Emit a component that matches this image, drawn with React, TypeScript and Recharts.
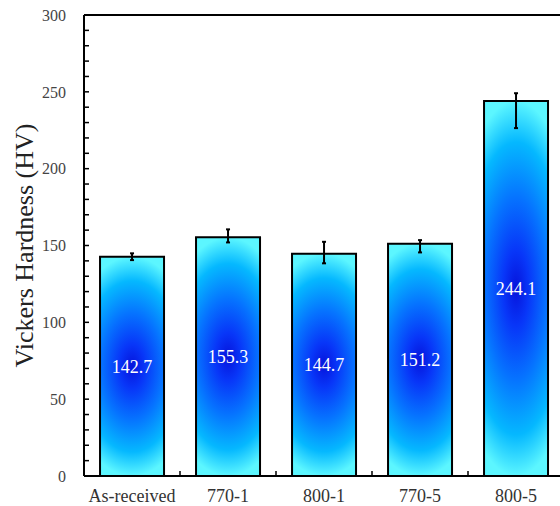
import { BarChart, Bar, XAxis, YAxis, ErrorBar, LabelList, ReferenceLine } from 'recharts';

const categories = ['As-received', '770-1', '800-1', '770-5', '800-5'];
const hardness = [142.7, 155.3, 144.7, 151.2, 244.1];
// error offsets below / above each mean
const errLow = [2.2, 3.3, 6.3, 5.7, 17.7];
const errHigh = [2.2, 5.2, 7.7, 2.3, 5.0];
const yTicks = [
  0, 10, 20, 30, 40, 50, 60, 70, 80, 90, 100, 110, 120, 130, 140, 150, 160, 170, 180, 190, 200,
  210, 220, 230, 240, 250, 260, 270, 280, 290, 300,
];
const yLabelStep = 50;

const data = categories.map((name, i) => ({
  name,
  hv: hardness[i],
  err: [errLow[i], errHigh[i]],
}));

const FONT = '"Liberation Serif", "DejaVu Serif", serif';
const X_LABEL_GAP = 13;

// category label plus a small inward tick on the boundary to its right
function CategoryTick(props: any) {
  const { x, y, payload, index } = props;
  const half = payload?.offset ?? 0;
  const axisY = y - X_LABEL_GAP;
  const last = index === categories.length - 1;
  return (
    <g>
      <text x={x} y={y} dy="0.71em" textAnchor="middle" fill="#333" fontSize={18} fontFamily={FONT}>
        {payload.value}
      </text>
      {!last && half > 0 && (
        <line x1={x + half} x2={x + half} y1={axisY} y2={axisY - 5} stroke="#000" strokeWidth={1.5} />
      )}
    </g>
  );
}

export default function App() {
  return (
    <div style={{ position: 'absolute', left: 0, top: 0, width: 560, height: 506, overflow: 'hidden', background: '#fff' }}>
      <BarChart
        width={580}
        height={506}
        data={data}
        margin={{ top: 15, right: 16, bottom: 0, left: 0 }}
        barCategoryGap="16.7%"
      >
        <defs>
          <radialGradient
            id="barGlow"
            cx="0.5"
            cy="0.5"
            r="0.5"
            gradientTransform="translate(0.5 0.5) scale(2 1) translate(-0.5 -0.5)"
          >
            <stop offset="0%" stopColor="#0614dc" />
            <stop offset="20%" stopColor="#0836f8" />
            <stop offset="48%" stopColor="#0672ff" />
            <stop offset="78%" stopColor="#05b8ff" />
            <stop offset="100%" stopColor="#5cf6ff" />
          </radialGradient>
        </defs>
        <XAxis
          dataKey="name"
          tickLine={false}
          tickSize={0}
          tickMargin={X_LABEL_GAP}
          height={30}
          interval={0}
          axisLine={{ stroke: '#000', strokeWidth: 2 }}
          tick={<CategoryTick />}
        />
        <YAxis
          width={84}
          domain={[0, 300]}
          ticks={yTicks}
          interval={0}
          tickSize={-5}
          tickMargin={23}
          tickFormatter={(v: number) => (v % yLabelStep === 0 ? String(v) : '')}
          axisLine={{ stroke: '#000', strokeWidth: 2 }}
          tickLine={{ stroke: '#000', strokeWidth: 1.5 }}
          tick={{ fill: '#444', fontSize: 16, fontFamily: FONT }}
          label={{
            value: 'Vickers Hardness (HV)',
            angle: -90,
            position: 'center',
            dx: -18,
            style: { fill: '#222', fontSize: 26, fontFamily: FONT, textAnchor: 'middle' },
          }}
        />
        <ReferenceLine y={300} stroke="#000" strokeWidth={2} />
        <Bar
          dataKey="hv"
          fill="url(#barGlow)"
          stroke="#000"
          strokeWidth={2}
          isAnimationActive={false}
        >
          <ErrorBar dataKey="err" width={2} stroke="#000" strokeWidth={2} direction="y" />
          <LabelList
            dataKey="hv"
            position="center"
            formatter={(v: number) => v.toFixed(1)}
            style={{ fill: '#fff', fontSize: 18, fontFamily: FONT }}
          />
        </Bar>
      </BarChart>
    </div>
  );
}
